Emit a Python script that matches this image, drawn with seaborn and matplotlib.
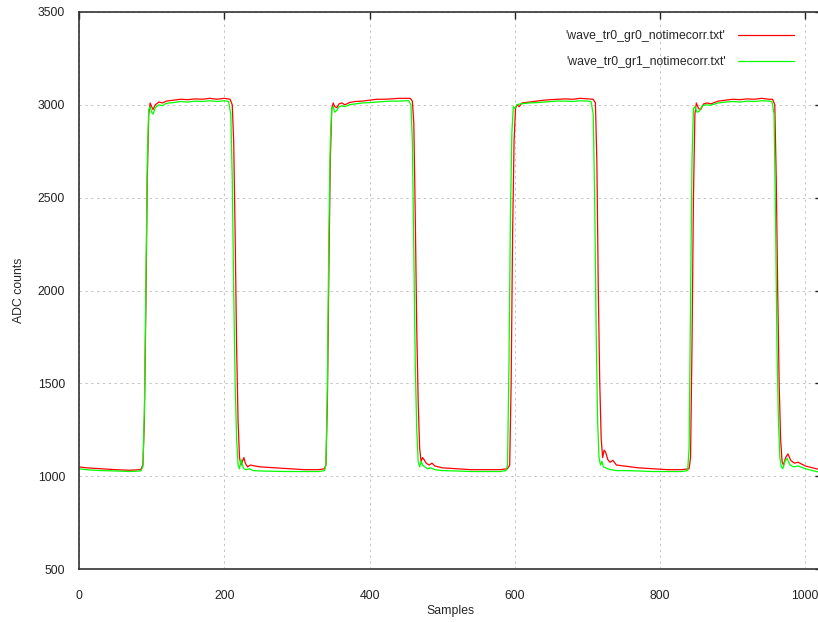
import matplotlib

matplotlib.use("Agg")

import matplotlib.pyplot as plt
import pandas as pd
import seaborn as sns

# waveform vertices (sample index, ADC counts)
red_x = [0, 10, 30, 50, 70, 85, 88, 90, 92, 94, 96, 98, 100, 102, 105, 110, 115, 120, 130, 140, 150, 160,
         170, 180, 190, 200, 208, 211, 213, 215, 217, 219, 221, 223, 225, 227, 229, 232, 236, 242, 250, 270,
         290, 310, 330, 338,
         340, 342, 344, 346, 348, 350, 352, 355, 358, 362, 366, 372, 380, 390, 400, 410, 420, 430, 440, 450,
         456, 459, 461, 463, 465, 467, 469, 471, 473, 475, 478, 482, 486, 490, 500, 520, 540, 560, 580, 590,
         593, 595, 597, 599, 601, 603, 606, 610, 620, 630, 640, 650, 660, 670, 680, 690, 700, 708, 711, 713,
         715, 717, 719, 721, 723, 725, 728, 731, 735, 740, 750, 770, 790, 810, 830, 840,
         842, 844, 846, 848, 850, 853, 856, 860, 865, 870, 880, 890, 900, 910, 920, 930, 940, 950, 955, 958,
         960, 962, 964, 966, 968, 970, 973, 976, 980, 985, 990, 1000, 1010, 1015, 1023]
red_y = [1050, 1045, 1040, 1035, 1032, 1035, 1060, 1300, 1900, 2600, 2950, 3010, 2990, 2975, 3000, 3015, 3010,
         3020, 3025, 3030, 3028, 3032, 3030, 3035, 3030, 3035, 3030, 3000, 2800, 2300, 1700, 1300, 1100, 1060,
         1080, 1100, 1070, 1050, 1060, 1055, 1050, 1045, 1040, 1035, 1035, 1040,
         1060, 1400, 2100, 2700, 2980, 3010, 2990, 2985, 3005, 3010, 3000, 3012, 3018, 3020, 3025, 3030, 3030,
         3032, 3035, 3035, 3035, 3020, 2900, 2400, 1800, 1400, 1150, 1080, 1100, 1090, 1070, 1060, 1070, 1055,
         1045, 1040, 1035, 1035, 1035, 1040,
         1060, 1500, 2300, 2800, 2980, 3000, 2990, 3010, 3015, 3020, 3025, 3028, 3030, 3032, 3030, 3035, 3032,
         3030, 3010, 2700, 2000, 1500, 1200, 1100, 1140, 1130, 1090, 1075, 1085, 1060, 1055, 1045, 1040, 1035,
         1035, 1040,
         1100, 1700, 2500, 2950, 3010, 2980, 2975, 3005, 3010, 3005, 3020, 3025, 3030, 3028, 3032, 3030, 3035,
         3030, 3030, 3000, 2600, 2000, 1500, 1200, 1080, 1060, 1100, 1120, 1085, 1070, 1075, 1055, 1045, 1040,
         1035]

green_x = [0, 10, 30, 50, 70, 85, 88, 90, 92, 94, 96, 98, 100, 102, 105, 110, 115, 120, 130, 140, 150, 160,
           170, 180, 190, 200, 206, 209, 211, 213, 215, 217, 219, 221, 223, 225, 227, 230, 234, 240, 250, 270,
           290, 310, 330, 338,
           340, 342, 344, 346, 348, 350, 352, 355, 358, 362, 366, 372, 380, 390, 400, 410, 420, 430, 440, 450,
           454, 457, 459, 461, 463, 465, 467, 469, 471, 473, 476, 480, 484, 490, 500, 520, 540, 560, 580, 588,
           590, 592, 594, 596, 598, 600, 603, 607, 620, 630, 640, 650, 660, 670, 680, 690, 700, 705, 708, 710,
           712, 714, 716, 718, 720, 722, 725, 728, 732, 740, 750, 770, 790, 810, 830, 838,
           840, 842, 844, 846, 848, 851, 854, 858, 863, 870, 880, 890, 900, 910, 920, 930, 940, 950, 954, 957,
           959, 961, 963, 965, 967, 969, 972, 975, 979, 984, 990, 1000, 1010, 1015, 1023]
green_y = [1040, 1035, 1030, 1028, 1025, 1028, 1050, 1350, 2000, 2700, 2970, 2990, 2960, 2950, 2985, 3000, 2995,
           3008, 3012, 3018, 3015, 3020, 3018, 3022, 3018, 3022, 3018, 2950, 2600, 2000, 1500, 1200, 1060, 1040,
           1090, 1060, 1040, 1035, 1040, 1030, 1028, 1026, 1025, 1025, 1025, 1030,
           1060, 1500, 2300, 2800, 2980, 2990, 2960, 2970, 2990, 2995, 2990, 3000, 3005, 3010, 3012, 3015, 3018,
           3020, 3020, 3022, 3022, 3000, 2800, 2200, 1600, 1250, 1080, 1050, 1080, 1060, 1050, 1040, 1045, 1035,
           1030, 1028, 1025, 1025, 1025, 1030,
           1060, 1600, 2400, 2850, 2990, 2980, 3000, 3005, 3010, 3012, 3015, 3018, 3020, 3020, 3018, 3022, 3020,
           3018, 2950, 2500, 1800, 1300, 1100, 1060, 1080, 1050, 1045, 1040, 1035, 1030, 1030, 1028, 1025, 1025,
           1025, 1030,
           1150, 1900, 2700, 2980, 2990, 2960, 2965, 2995, 3000, 2998, 3010, 3015, 3018, 3015, 3020, 3018, 3022,
           3020, 3018, 2950, 2400, 1700, 1300, 1100, 1050, 1040, 1080, 1095, 1060, 1050, 1055, 1040, 1030, 1025,
           1020]

labels = ["'wave_tr0_gr0_notimecorr.txt'", "'wave_tr0_gr1_notimecorr.txt'"]
colors = ["#ff0000", "#00ff00"]

df = pd.concat([
    pd.DataFrame({"Samples": red_x, "ADC counts": red_y, "trace": labels[0]}),
    pd.DataFrame({"Samples": green_x, "ADC counts": green_y, "trace": labels[1]}),
], ignore_index=True)

sns.set_style("white")
plt.rcParams["font.family"] = ["Liberation Sans", "DejaVu Sans"]
fs = 8.8

fig = plt.figure(figsize=(8.18, 6.22), dpi=100)
ax = fig.add_axes([79 / 818, 53 / 622, 743 / 818, 557 / 622])

sns.lineplot(data=df, x="Samples", y="ADC counts", hue="trace", palette=colors,
             sort=False, estimator=None, linewidth=0.9, ax=ax)

ax.set_xlim(0, 1023)
ax.set_ylim(500, 3500)
ax.set_xticks(range(0, 1001, 200))
ax.set_yticks(range(500, 3501, 500))
ax.grid(True, color="#c4c4c4", linestyle=(0, (2.5, 3.5)), linewidth=0.7)
ax.tick_params(direction="in", length=5, width=1, top=True, right=True, colors="#222222",
               labelcolor="#222222", labelsize=fs)
ax.tick_params(axis="x", pad=15)
ax.tick_params(axis="y", pad=10)
for s in ax.spines.values():
    s.set_color("#333333")
    s.set_linewidth(1.2)
ax.set_xlabel("Samples", fontsize=fs, labelpad=2)
ax.set_ylabel("ADC counts", fontsize=fs, labelpad=9)

handles, lbls = ax.get_legend_handles_labels()
leg = ax.legend(handles, lbls, loc="upper right", bbox_to_anchor=(805 / 818, 1 - 19 / 622),
                bbox_transform=fig.transFigure, frameon=False, markerfirst=False,
                handlelength=4.6, handletextpad=1.0, labelspacing=1.15, fontsize=fs)

fig.savefig("out.png", dpi=100)
